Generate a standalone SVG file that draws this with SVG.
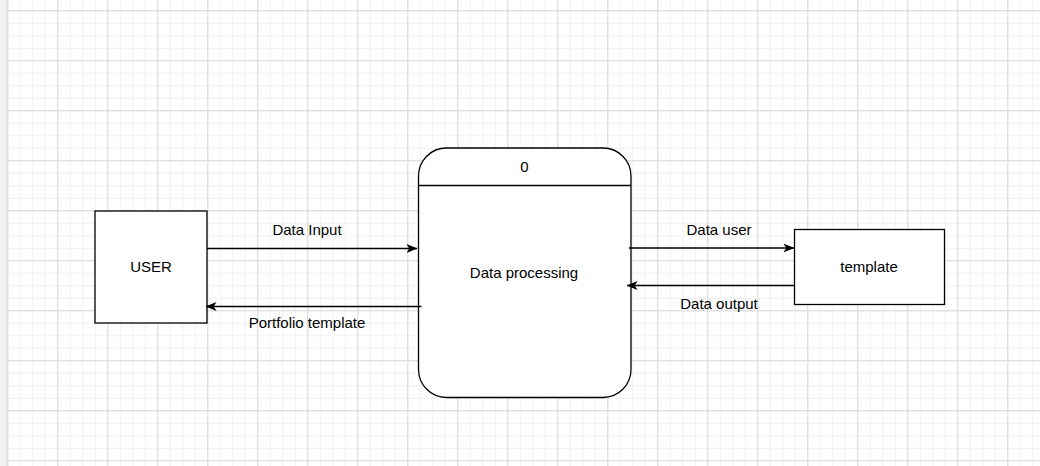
<svg xmlns="http://www.w3.org/2000/svg" width="1040" height="466" viewBox="0 0 1040 466">
  <defs>
    <pattern id="minor" x="7.3" y="10.3" width="12.5" height="12.5" patternUnits="userSpaceOnUse">
      <path d="M0 0.5H12.5M0.5 0V12.5" fill="none" stroke="#f1f1f1" stroke-width="1"/>
    </pattern>
    <pattern id="major" x="7.3" y="10.3" width="50" height="50" patternUnits="userSpaceOnUse">
      <path d="M0 0.5H50M0.5 0V50" fill="none" stroke="#d9d9d9" stroke-width="1"/>
    </pattern>
    <marker id="arrow" viewBox="0 0 11 10" refX="10.5" refY="5" markerWidth="11" markerHeight="10" markerUnits="userSpaceOnUse" orient="auto">
      <path d="M0 0.6 L11 5 L0 9.4 L2.8 5 Z" fill="#000"/>
    </marker>
    <style>
      .box { fill: #fff; stroke: #000; stroke-width: 1.3; }
      .lbl { font-family: "Liberation Sans", Arial, sans-serif; font-size: 15px; fill: #000; text-anchor: middle; }
      .edge { fill: none; stroke: #000; stroke-width: 1.3; marker-end: url(#arrow); }
    </style>
  </defs>
  <rect width="1040" height="466" fill="#fff"/>
  <rect width="1040" height="466" fill="url(#minor)"/>
  <rect width="1040" height="466" fill="url(#major)"/>
  <rect x="0" y="0" width="6" height="466" fill="#f3f3f3"/>
  <line x1="6.5" y1="0" x2="6.5" y2="466" stroke="#e6e6e6"/>

  <g id="user">
    <rect class="box" x="95" y="211" width="112" height="112"/>
    <text class="lbl" x="151" y="272">USER</text>
  </g>

  <g id="process">
    <rect class="box" x="418.5" y="148" width="212.5" height="249.5" rx="28" ry="28"/>
    <line x1="418.5" y1="185.5" x2="631" y2="185.5" stroke="#000" stroke-width="1.3"/>
    <text class="lbl" x="524.5" y="172">0</text>
    <text class="lbl" x="524" y="278">Data processing</text>
  </g>

  <g id="template">
    <rect class="box" x="794.5" y="229.5" width="150" height="75"/>
    <text class="lbl" x="869" y="272">template</text>
  </g>

  <g id="connectors">
    <path class="edge" d="M207 248.5 H417"/>
    <text class="lbl" x="307" y="235">Data Input</text>
    <path class="edge" d="M421.5 306.5 H206"/>
    <text class="lbl" x="307" y="328">Portfolio template</text>
    <path class="edge" d="M629 248 H794"/>
    <text class="lbl" x="719" y="235">Data user</text>
    <path class="edge" d="M794 285.5 H627"/>
    <text class="lbl" x="719" y="309">Data output</text>
  </g>
</svg>
